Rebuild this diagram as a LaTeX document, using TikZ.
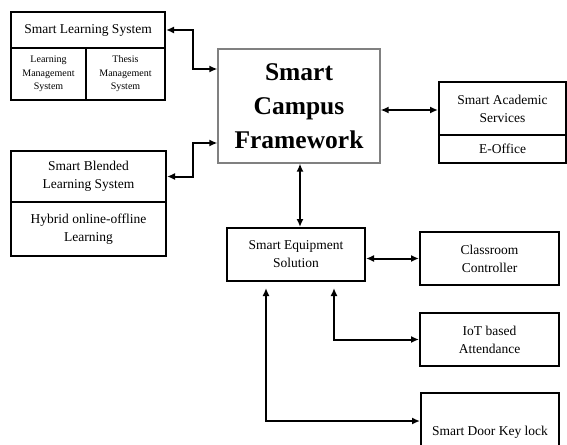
\documentclass[tikz,border=0pt]{standalone}
\usepackage{fontspec}
\setmainfont{Liberation Serif}
\usetikzlibrary{arrows.meta}

\begin{document}
\begin{tikzpicture}[x=1pt,y=-1pt,
  box/.style={draw, line width=2pt, inner sep=0pt, align=center,
    font=\fontsize{13.5}{18}\selectfont},
  subbox/.style={box, font=\fontsize{10}{13.5}\selectfont},
  mainbox/.style={draw=gray, line width=1.2pt, inner sep=0pt, align=center,
    font=\fontsize{25.5}{34}\selectfont\bfseries},
  link/.style={line width=2pt, {Latex[length=8pt,width=7pt]}-{Latex[length=8pt,width=7pt]}}]
\useasboundingbox (0,0) rectangle (567,444);
% framework in the middle
\node[mainbox, minimum width=162pt, minimum height=114pt] (frame) at (299,106) {Smart\\Campus\\Framework};
% left column
\node[box, minimum width=154pt, minimum height=36pt] (sls) at (88,30) {Smart Learning System};
\node[subbox, minimum width=75pt, minimum height=52pt] (lms) at (48.5,74) {Learning\\Management\\System};
\node[subbox, minimum width=79pt, minimum height=52pt] (tms) at (125.5,74) {Thesis\\Management\\System};
\node[box, minimum width=155pt, minimum height=51pt] (sbls) at (88.5,176.5) {Smart Blended\\Learning System};
\node[box, minimum width=155pt, minimum height=54pt] (hybrid) at (88.5,229) {Hybrid online-offline\\Learning};
% right column
\node[box, minimum width=127pt, minimum height=53pt] (sas) at (502.5,108.5) {Smart Academic\\Services};
\node[box, minimum width=127pt, minimum height=28pt] (eoffice) at (502.5,149) {E-Office};
% equipment
\node[box, minimum width=138pt, minimum height=53pt] (ses) at (296,254.5) {Smart Equipment\\Solution};
\node[box, minimum width=139pt, minimum height=53pt] (cc) at (489.5,258.5) {Classroom\\Controller};
\node[box, minimum width=139pt, minimum height=53pt] (iot) at (489.5,339.5) {IoT based\\Attendance};
\node[box, minimum width=138pt, minimum height=78pt] (door) at (490,432) {Smart Door Key lock};

\draw[link] (sls.east) -- ++(27,0) |- ([yshift=37pt]frame.west);
\draw[link] (sbls.east) -- ++(26,0) |- ([yshift=-37pt]frame.west);
\draw[link] (frame.east |- 0,110) -- (sas.west |- 0,110);
\draw[link] (frame.south -| 300,0) -- (ses.north -| 300,0);
\draw[link] (ses.east |- cc.west) -- (cc.west);
\draw[link] ([xshift=38pt,yshift=-6pt]ses.south) |- (iot.west);
\draw[link] ([xshift=-30pt,yshift=-6pt]ses.south) |- ([yshift=11pt]door.west);
\end{tikzpicture}
\end{document}
